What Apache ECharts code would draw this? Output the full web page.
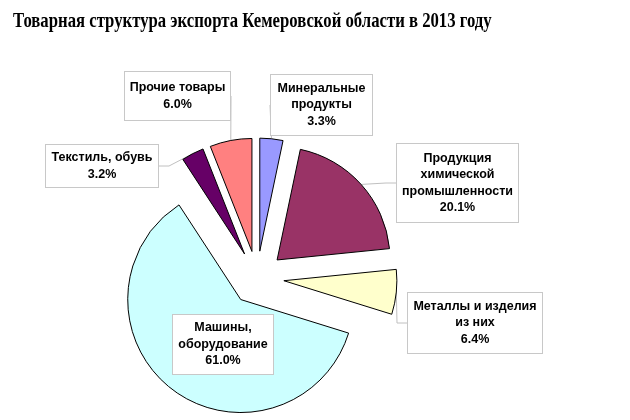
<!DOCTYPE html>
<html>
<head>
<meta charset="utf-8">
<script src="https://cdn.jsdelivr.net/npm/echarts@6/dist/echarts.min.js"></script>
<style>
html,body{margin:0;padding:0;background:#fff;}
#chart{width:630px;height:420px;}
</style>
</head>
<body>
<div id="chart"></div>
<script>
// ---- data ----
const categories = ['Минеральные продукты', 'Продукция химической промышленности', 'Металлы и изделия из них', 'Машины, оборудование', 'Текстиль, обувь', 'Прочие товары'];
const labelTexts = ['Минеральные\nпродукты', 'Продукция\nхимической\nпромышленности', 'Металлы и изделия\nиз них', 'Машины,\nоборудование', 'Текстиль, обувь', 'Прочие товары'];
const values = [3.3, 20.1, 6.4, 61.0, 3.2, 6.0];
const colors = ['#9999FF', '#993366', '#FFFFCC', '#CCFFFF', '#660066', '#FF8080'];
const titleText = 'Товарная структура экспорта Кемеровской области в 2013 году';

// ---- layout ----
const PIE_CENTER = [257, 278];
const PIE_RADIUS = 113;
const EXPLODE = 27;
const labelBoxes = [
  {x: 271, y: 75, w: 101, h: 60},
  {x: 397, y: 144, w: 121, h: 78},
  {x: 408, y: 293, w: 134, h: 60},
  {x: 173, y: 315, w: 100, h: 59},
  {x: 46, y: 145, w: 112, h: 42},
  {x: 125, y: 72, w: 105, h: 48}
];
const LH = 16.5;
const PADH = 4;

const total = values.reduce((a, b) => a + b, 0);
let acc = 0;
const series = values.map((v, k) => {
  const mid = (acc + v / 2) / total * 2 * Math.PI;
  acc += v;
  const cx = PIE_CENTER[0] + Math.sin(mid) * EXPLODE;
  const cy = PIE_CENTER[1] - Math.cos(mid) * EXPLODE;
  const b = labelBoxes[k];
  const lines = labelTexts[k].split('\n').length + 1;
  const padV = Math.max(0, (b.h - lines * LH) / 2);
  return {
    type: 'pie',
    center: [cx, cy],
    radius: PIE_RADIUS,
    startAngle: 90,
    clockwise: true,
    avoidLabelOverlap: false,
    silent: true,
    minShowLabelAngle: 0,
    data: categories.map((name, i) => i === k ? {
      name: name,
      value: values[i],
      itemStyle: {color: colors[i], borderColor: '#000', borderWidth: 1},
      label: {
        show: true,
        width: b.w - 2 * PADH,
        padding: [padV, PADH, padV, PADH]
      },
      labelLine: {show: i !== 3}
    } : {
      name: name,
      value: values[i],
      itemStyle: {color: 'rgba(0,0,0,0)', borderWidth: 0},
      label: {show: false},
      labelLine: {show: false}
    }),
    label: {
      position: 'outside',
      formatter: (p) => labelTexts[p.dataIndex] + '\n' + p.value.toFixed(1) + '%',
      fontFamily: 'Liberation Sans',
      fontWeight: 'bold',
      fontSize: 12.5,
      lineHeight: LH,
      color: '#000',
      align: 'center',
      backgroundColor: '#fff',
      borderColor: '#c8c8c8',
      borderWidth: 1
    },
    labelLine: {length: 10, length2: 10, lineStyle: {color: '#c0c0c0', width: 1}},
    labelLayout: function (params) {
      const bb = labelBoxes[params.dataIndex];
      return {x: bb.x + bb.w / 2, y: bb.y, align: 'center', verticalAlign: 'top'};
    }
  };
});

const chart = echarts.init(document.getElementById('chart'), null, {renderer: 'canvas'});
chart.setOption({
  animation: false,
  backgroundColor: '#fff',
  graphic: [{
    type: 'text',
    x: 13,
    y: 21,
    scaleX: 0.76,
    style: {
      text: titleText,
      font: 'bold 22px "Liberation Serif"',
      fill: '#000',
      verticalAlign: 'middle'
    }
  }],
  series: series
});
</script>
</body>
</html>
